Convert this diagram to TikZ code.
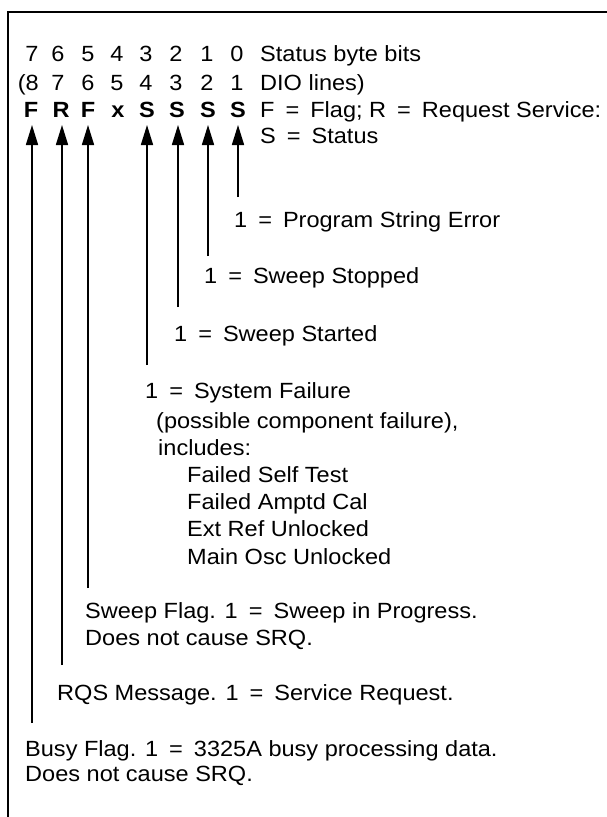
\documentclass[tikz,border=0pt]{standalone}
\usepackage{fontspec}
\setmainfont{Liberation Sans}[FakeStretch=1.07]
\usetikzlibrary{arrows.meta}
\newcommand{\eqs}{\hspace{0.5em}=\hspace{0.5em}}
\begin{document}
\begin{tikzpicture}[x=1bp,y=-1bp,
  txt/.style={font=\fontsize{22bp}{27bp}\selectfont, inner sep=0pt, anchor=base west},
  dig/.style={font=\fontsize{22bp}{27bp}\selectfont, inner sep=0pt, anchor=base},
  bitl/.style={inner sep=0pt, anchor=base, font=\fontsize{22bp}{27bp}\selectfont\bfseries},
  arr/.style={line width=1.6bp, -{Triangle[length=20bp,width=12bp]}},
  frameline/.style={line width=2bp}]
\useasboundingbox (0,0) rectangle (607,817);
% frame
\coordinate (fa) at (607,12);
\coordinate (fb) at (8,12);
\coordinate (fc) at (8,817);
\draw[frameline] (fa) -- (fb) -- (fc);
% row 1: status byte bits
\foreach \d/\x in {7/32,6/58,5/88,4/117,3/146,2/176,1/207,0/237}
  \node[dig] (r1b\d) at (\x,62) {\d};
\node[txt] (r1t) at (260,62) {Status byte bits};
% row 2: DIO lines
\node[dig, anchor=base east] (r2b7) at (39,90) {(8};
\foreach \d/\n/\x in {7/6/58,6/5/88,5/4/117,4/3/146,3/2/176,2/1/207,1/0/237}
  \node[dig] (r2b\n) at (\x,90) {\d};
\node[txt] (r2t) at (260,90) {DIO lines)};
% row 3: letters
\foreach \l/\n/\x in {F/7/31,R/6/61,F/5/88,x/4/118,S/3/147,S/2/177,S/1/208,S/0/238}
  \node[bitl] (L\n) at (\x,117) {\l};
\node[txt] (r3t) at (260,117) {F\eqs Flag; R\eqs Request Service:};
\node[txt] (r4t) at (260,143) {S\eqs Status};
% arrow tips and ends
\foreach \n/\x/\e in {7/32/723,6/62/665,5/88/588,3/147/365,2/178/307,1/208/256,0/238/197}{
  \coordinate (t\n) at (\x,125);
  \coordinate (e\n) at (\x,\e);
  \draw[arr] (e\n) -- (t\n);
}
% descriptions
\node[txt] (d0) at (234,227) {1\eqs Program String Error};
\node[txt] (d1) at (204,283) {1\eqs Sweep Stopped};
\node[txt] (d2) at (174,341) {1\eqs Sweep Started};
\node[txt] (d3) at (145,398) {1\eqs System Failure};
\node[txt] (d3a) at (156,428) {(possible component failure),};
\node[txt] (d3b) at (158,455) {includes:};
\node[txt] (d3c) at (187,482) {Failed Self Test};
\node[txt] (d3d) at (187,509) {Failed Amptd Cal};
\node[txt] (d3e) at (187,536) {Ext Ref Unlocked};
\node[txt] (d3f) at (187,564) {Main Osc Unlocked};
\node[txt] (d5) at (85,618) {Sweep Flag. 1\eqs Sweep in Progress.};
\node[txt] (d5a) at (85,645) {Does not cause SRQ.};
\node[txt] (d6) at (57,700) {RQS Message. 1\eqs Service Request.};
\node[txt] (d7) at (25,756) {Busy Flag. 1\eqs 3325A busy processing data.};
\node[txt] (d7a) at (25,781) {Does not cause SRQ.};
\end{tikzpicture}
\end{document}
